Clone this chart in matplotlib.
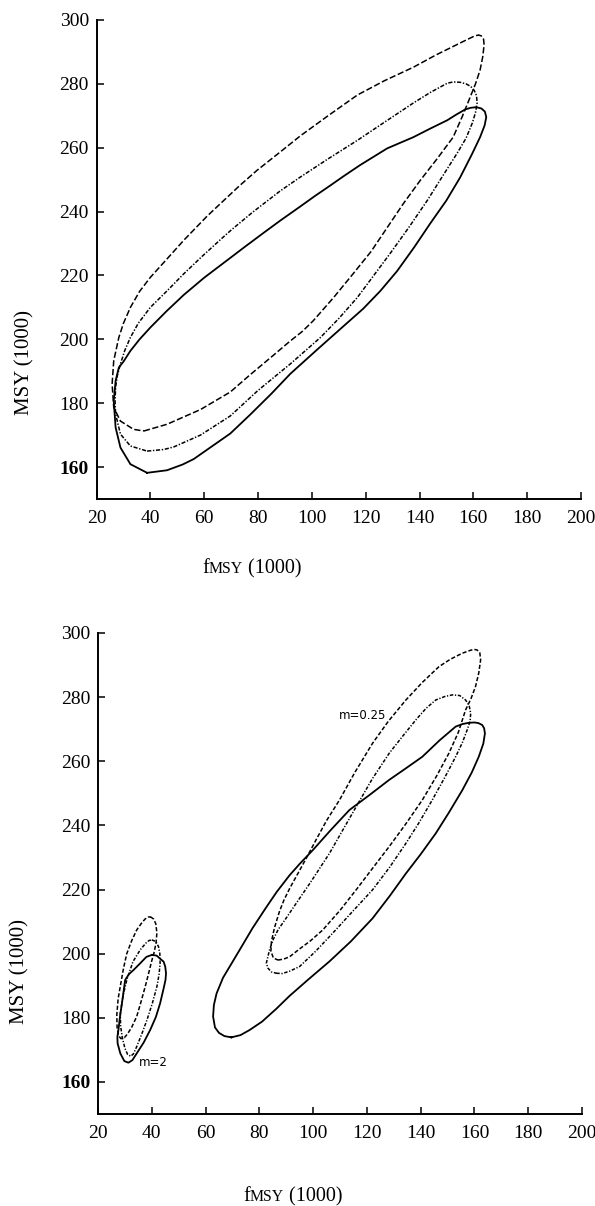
import numpy as np
import matplotlib
matplotlib.use("Agg")
import matplotlib.pyplot as plt

plt.rcParams["font.family"] = ["Liberation Serif", "DejaVu Serif"]
plt.rcParams["lines.scale_dashes"] = False

# (fMSY, MSY) points, in thousands

# upper panel
top_solid = [
    (38.8, 158.2), (46.2, 159.0), (52.0, 160.8), (56.1, 162.5), (61.2, 165.5), (69.7, 170.5),
    (77.2, 176.5), (85.0, 183.0), (92.0, 189.2), (102.0, 196.8), (110.0, 202.8), (119.1, 209.6),
    (125.5, 215.2), (131.7, 221.4), (138.0, 228.8), (144.0, 236.3), (150.0, 243.5), (155.1, 250.7),
    (159.5, 258.0), (162.5, 263.3), (164.2, 267.0), (164.8, 269.6), (164.3, 271.3), (163.0, 272.3),
    (161.0, 272.7), (159.0, 272.5), (157.0, 272.0), (153.5, 270.3), (150.3, 268.6), (144.0, 266.0),
    (137.7, 263.3), (128.0, 259.8), (118.0, 254.6), (112.0, 251.2), (106.9, 248.2), (101.0, 244.8),
    (95.7, 241.6), (88.3, 237.2), (82.0, 233.3), (75.0, 228.9), (69.7, 225.5), (60.0, 219.3),
    (52.4, 213.9), (46.0, 208.8), (40.0, 203.7), (36.0, 200.0), (32.6, 196.4), (30.0, 193.0),
    (28.3, 191.2), (27.1, 187.0), (26.4, 180.7), (27.1, 172.4), (28.9, 166.1), (32.6, 160.9),
]
top_dash = [
    (37.6, 171.3), (46.2, 173.4), (58.6, 178.0), (69.7, 183.5), (77.2, 189.0), (85.0, 194.5),
    (92.0, 199.5), (96.5, 202.5), (100.5, 205.8), (108.0, 213.0), (115.4, 220.6), (122.0, 227.5),
    (128.0, 235.0), (134.0, 242.5), (140.3, 249.8), (146.5, 256.5), (152.5, 263.3), (156.0, 270.0),
    (158.8, 275.8), (160.8, 280.0), (162.5, 284.3), (163.5, 288.5), (164.0, 292.2), (163.8, 294.0),
    (163.0, 295.0), (162.0, 295.3), (160.5, 295.0), (158.0, 294.0), (155.1, 292.8), (146.0, 289.0),
    (137.7, 285.2), (127.0, 281.0), (116.9, 276.5), (106.0, 270.0), (95.7, 263.7), (88.0, 258.5),
    (79.6, 252.9), (73.0, 248.0), (67.3, 243.5), (61.0, 238.5), (52.4, 231.0), (46.0, 225.0),
    (40.0, 219.4), (36.0, 215.0), (32.6, 210.0), (30.0, 205.0), (28.3, 200.6), (26.4, 193.3),
    (25.8, 186.0), (26.4, 178.7), (28.9, 174.4), (33.8, 171.8),
]
top_dashdot = [
    (38.8, 165.0), (45.0, 165.5), (48.7, 166.3), (58.6, 170.0), (69.7, 176.0), (80.0, 184.0),
    (92.0, 192.3), (103.1, 200.5), (110.0, 206.5), (116.9, 213.1), (123.0, 220.0), (129.1, 226.9),
    (136.0, 235.0), (142.9, 243.5), (148.5, 251.0), (154.0, 258.3), (157.3, 263.0), (159.6, 267.7),
    (160.8, 271.0), (161.4, 274.0), (161.2, 276.3), (160.3, 278.0), (159.0, 279.2), (157.3, 280.0),
    (155.1, 280.5), (152.5, 280.6), (150.3, 280.2), (144.0, 277.3), (137.7, 274.0), (127.0, 268.0),
    (116.9, 262.3), (106.0, 256.5), (95.7, 250.8), (88.3, 246.5), (78.0, 239.8), (70.0, 234.2),
    (66.0, 231.2), (59.0, 225.8), (52.4, 220.5), (46.0, 215.0), (40.0, 210.0), (35.5, 205.0),
    (32.6, 200.6), (30.5, 196.5), (28.9, 192.3), (27.7, 188.5), (27.1, 185.0), (26.9, 180.5),
    (27.1, 176.6), (28.9, 170.3), (32.6, 166.6),
]

# lower panel, m=0.25
big_solid = [
    (69.6, 173.9), (73.0, 174.6), (76.4, 176.2), (81.0, 178.8), (86.3, 182.8), (91.2, 186.8),
    (98.0, 191.8), (106.1, 197.6), (114.0, 203.8), (122.1, 211.0), (128.5, 218.0), (134.5, 225.0),
    (140.0, 231.0), (145.6, 237.5), (150.5, 244.0), (155.5, 251.0), (159.0, 256.5), (161.6, 261.4),
    (163.3, 265.5), (163.9, 268.7), (163.6, 270.3), (162.9, 271.3), (161.5, 271.9), (160.0, 272.1),
    (157.9, 272.0), (155.5, 271.6), (153.0, 270.8), (147.0, 266.5), (140.6, 261.4), (134.5, 257.8),
    (128.3, 254.2), (121.0, 249.5), (113.5, 244.8), (106.5, 238.5), (99.9, 232.3), (95.0, 228.0),
    (91.2, 224.4), (86.5, 219.3), (82.6, 214.5), (77.5, 208.0), (72.7, 201.2), (69.0, 196.0),
    (66.5, 192.5), (64.1, 187.6), (63.1, 184.0), (62.8, 180.4), (63.5, 177.0), (65.0, 175.3),
    (67.0, 174.3),
]
big_dash = [
    (86.9, 198.0), (89.0, 198.3), (91.2, 199.0), (95.0, 201.5), (99.0, 204.0), (103.6, 207.4),
    (110.0, 213.5), (116.0, 219.9), (122.0, 226.5), (128.3, 233.4), (134.5, 240.5), (140.6, 247.9),
    (146.0, 255.5), (150.5, 262.5), (154.0, 269.0), (156.7, 276.0), (158.7, 279.5), (160.4, 283.3),
    (161.6, 287.5), (162.3, 291.6), (162.0, 293.8), (161.0, 294.7), (159.8, 294.9), (158.5, 294.6),
    (155.5, 293.7), (151.0, 291.8), (146.8, 289.5), (140.5, 284.5), (134.5, 279.1), (128.0, 272.5),
    (122.1, 265.6), (115.5, 256.5), (109.8, 247.9), (105.0, 241.5), (101.1, 235.5), (98.0, 230.6),
    (95.0, 226.0), (91.5, 220.7), (89.2, 216.8), (87.5, 213.2), (85.6, 208.0), (84.5, 203.8),
    (84.3, 200.8), (85.2, 198.7),
]
big_dashdot = [
    (86.3, 193.9), (88.5, 193.8), (91.2, 194.5), (95.0, 196.0), (101.0, 200.8), (107.3, 206.4),
    (114.5, 213.0), (122.1, 219.9), (128.5, 227.0), (134.5, 234.4), (139.5, 241.0), (144.3, 247.9),
    (149.0, 255.0), (153.0, 261.4), (155.5, 265.8), (157.3, 269.8), (158.4, 272.5), (158.6, 275.0),
    (158.0, 277.5), (156.7, 279.1), (154.5, 280.5), (151.8, 280.7), (149.0, 280.2), (145.6, 279.1),
    (142.0, 276.5), (138.2, 272.9), (133.0, 267.5), (128.3, 262.5), (122.0, 254.5), (116.0, 245.8),
    (111.0, 238.5), (106.1, 231.3), (99.0, 222.2), (92.0, 213.6), (89.5, 210.5), (87.0, 207.5),
    (85.2, 204.5), (83.8, 201.2), (82.6, 197.0), (83.2, 195.5), (84.5, 194.3),
]

# lower panel, m=2
small_solid = [
    (40.0, 199.6), (41.8, 199.4), (43.0, 198.5), (44.4, 197.5), (45.0, 196.0), (45.3, 193.9),
    (45.1, 191.8), (44.5, 189.5), (43.1, 184.5), (41.5, 180.2), (39.4, 176.2), (37.0, 172.3),
    (34.4, 168.9), (32.8, 166.8), (31.3, 166.0), (29.8, 166.5), (28.3, 168.9), (27.3, 172.0),
    (27.2, 174.0), (27.6, 176.2), (28.2, 180.5), (28.9, 184.5), (30.1, 191.8), (31.5, 193.6),
    (33.2, 194.9), (35.7, 197.0), (38.0, 199.0),
]
small_dash = [
    (39.5, 211.5), (40.7, 210.8), (41.5, 209.3), (41.9, 206.5), (41.6, 203.5), (40.9, 200.5),
    (40.0, 197.8), (37.9, 190.8), (36.0, 185.0), (34.4, 180.4), (32.5, 177.0), (31.0, 175.0),
    (29.8, 173.8), (28.5, 173.5), (27.6, 174.5), (27.1, 177.0), (27.0, 181.0), (27.5, 186.0),
    (28.5, 190.8), (29.5, 195.5), (30.7, 200.0), (32.5, 204.0), (34.4, 207.4), (36.0, 209.3),
    (37.5, 210.8), (38.6, 211.4),
]
small_dashdot = [
    (40.0, 204.3), (41.5, 203.8), (42.5, 202.2), (43.0, 200.0), (43.1, 197.0), (42.7, 193.5),
    (41.9, 189.7), (40.2, 184.5), (38.2, 179.3), (36.3, 175.0), (34.4, 171.0), (33.2, 168.8),
    (32.2, 168.0), (31.0, 168.6), (30.0, 170.5), (29.0, 174.0), (28.4, 177.5), (28.3, 181.4),
    (29.3, 186.8), (30.7, 191.8), (33.0, 197.5), (35.7, 201.2), (37.8, 203.3), (39.0, 204.1),
]

x_ticks = [20, 40, 60, 80, 100, 120, 140, 160, 180, 200]
y_ticks = [160, 180, 200, 220, 240, 260, 280, 300]

annotations = [("m=0.25", 118.5, 274.4), ("m=2", 40.7, 166.2)]

SOLID = dict(color="black", lw=1.3)
DASH_TOP = dict(color="black", lw=1.1, dashes=(4.5, 1.8))
DD_TOP = dict(color="black", lw=1.1, dashes=(3.0, 1.2, 1.0, 1.2))
DASH_BOT = dict(color="black", lw=1.1, dashes=(3.0, 1.5))
DD_BOT = dict(color="black", lw=1.1, dashes=(2.5, 1.2, 0.9, 1.2))


def loop(ax, pts, style):
    xs, ys = zip(*pts)
    xs = list(xs) + [xs[0]]
    ys = list(ys) + [ys[0]]
    ax.plot(xs, ys, solid_joinstyle="round", dash_joinstyle="round", **style)


def style_axes(ax):
    ax.set_xlim(20, 200)
    ax.set_ylim(150, 300)
    for s in ["top", "right"]:
        ax.spines[s].set_visible(False)
    for s in ["left", "bottom"]:
        ax.spines[s].set_linewidth(1.4)
    ax.set_xticks(x_ticks)
    ax.set_xticklabels([str(v) for v in x_ticks])
    ax.set_yticks(y_ticks)
    ax.set_yticklabels([str(v) for v in y_ticks])
    ax.tick_params(axis="both", direction="in", length=5, width=1.1, labelsize=14)
    ax.tick_params(axis="x", pad=8)
    ax.tick_params(axis="y", pad=5.5)
    for lab in ax.get_yticklabels():
        if lab.get_text() == "160":
            lab.set_fontweight("bold")


def fmsy_label(fig, ax, x0, y0, size):
    # "f" + small-caps "MSY" + " (1000)" on one baseline
    t1 = fig.text(x0, y0, "f", ha="left", va="baseline", fontsize=size)
    t2 = ax.annotate("MSY", xy=(1, y0), xycoords=(t1, "figure fraction"),
                     ha="left", va="baseline", fontsize=size * 0.78, annotation_clip=False)
    ax.annotate(" (1000)", xy=(1, y0), xycoords=(t2, "figure fraction"),
                ha="left", va="baseline", fontsize=size, annotation_clip=False)


W, H = 595, 1206
fig = plt.figure(figsize=(W / 100, H / 100), dpi=100)

ax1 = fig.add_axes([96.5 / W, 1 - 499 / H, (581 - 96.5) / W, (499 - 20) / H])
loop(ax1, top_solid, SOLID)
loop(ax1, top_dash, DASH_TOP)
loop(ax1, top_dashdot, DD_TOP)
style_axes(ax1)

ax2 = fig.add_axes([98 / W, 1 - 1114 / H, (582 - 98) / W, (1114 - 633) / H])
loop(ax2, big_solid, SOLID)
loop(ax2, big_dash, DASH_BOT)
loop(ax2, big_dashdot, DD_BOT)
loop(ax2, small_solid, SOLID)
loop(ax2, small_dash, DASH_BOT)
loop(ax2, small_dashdot, DD_BOT)
style_axes(ax2)

for txt, x, y in annotations:
    ax2.text(x, y, txt, ha="center", va="center", fontsize=8.5, family="DejaVu Sans")

fig.text(25 / W, 1 - 362 / H, "MSY (1000)", rotation=90, ha="center", va="center", fontsize=15)
fig.text(20 / W, 1 - 971 / H, "MSY (1000)", rotation=90, ha="center", va="center", fontsize=15)
fmsy_label(fig, ax1, 202 / W, 1 - 573 / H, 14.5)
fmsy_label(fig, ax2, 243 / W, 1 - 1201 / H, 14.5)

fig.savefig("out.png", dpi=100)
